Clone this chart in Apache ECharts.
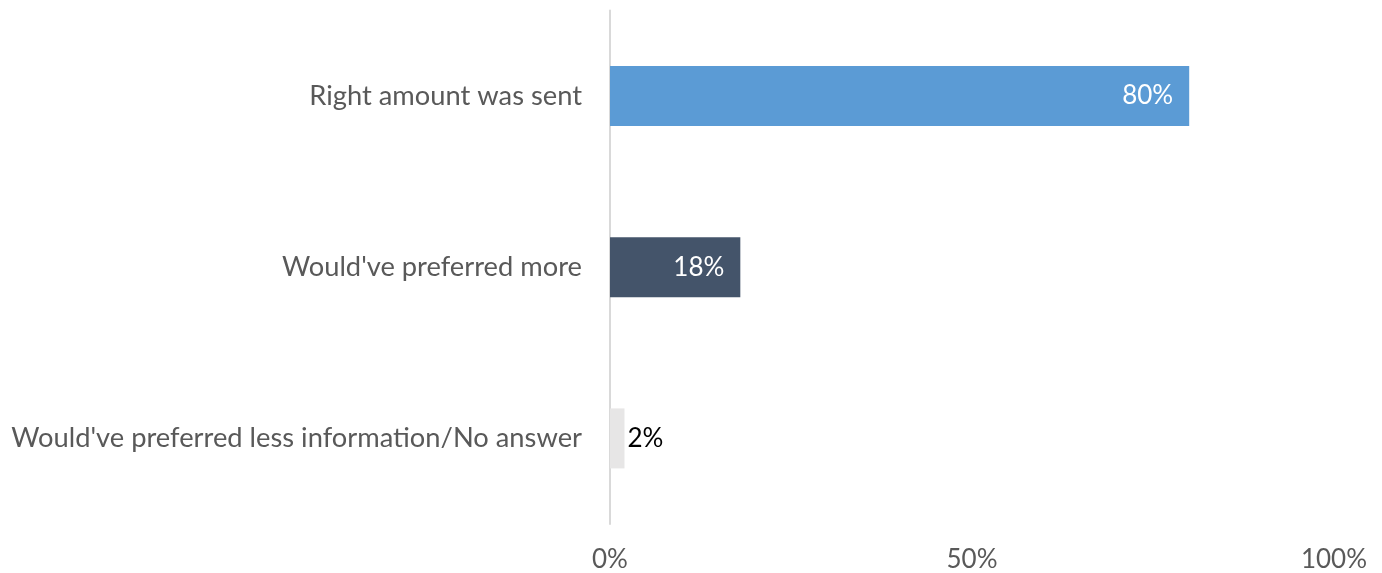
<!DOCTYPE html>
<html>
<head>
<meta charset="utf-8">
<script src="https://cdn.jsdelivr.net/npm/echarts@6/dist/echarts.min.js"></script>
<style>
  html, body { margin: 0; padding: 0; background: #fff; }
  #chart { width: 1382px; height: 573px; }
</style>
</head>
<body>
<div id="chart"></div>
<script>
// Categories listed bottom to top (category axis on y starts at bottom)
let categories = ["Would've preferred less information/No answer", "Would've preferred more", "Right amount was sent"];
let values = [2, 18, 80];
let barColors = ["#E7E6E6", "#44546A", "#5B9BD5"];
let labelColors = ["#000000", "#FFFFFF", "#FFFFFF"];
let xTicks = [0, 50, 100];

const fontFamily = "Lato, 'Open Sans', sans-serif";

let chart = echarts.init(document.getElementById("chart"));

chart.setOption({
  animation: false,
  grid: { left: 610, right: 48, top: 10.5, bottom: 49 },
  xAxis: {
    type: "value",
    min: xTicks[0],
    max: xTicks[xTicks.length - 1],
    interval: 50,
    axisLine: { show: false },
    axisTick: { show: false },
    splitLine: { show: false },
    axisLabel: {
      formatter: (v) => v + "%",
      color: "#595959",
      fontFamily: fontFamily,
      fontSize: 26,
      margin: 23
    }
  },
  yAxis: {
    type: "category",
    data: categories,
    axisLine: { show: true, lineStyle: { color: "#D9D9D9", width: 2 } },
    axisTick: { show: false },
    axisLabel: {
      color: "#595959",
      fontFamily: fontFamily,
      fontSize: 27.3,
      margin: 28
    }
  },
  series: [{
    type: "bar",
    barWidth: 60,
    data: values.map((v, i) => ({
      value: v,
      itemStyle: { color: barColors[i] },
      label: {
        position: i === 0 ? "right" : "insideRight",
        color: labelColors[i],
        distance: i === 0 ? 3 : 16
      }
    })),
    label: {
      show: true,
      formatter: (p) => p.value + "%",
      fontFamily: fontFamily,
      fontSize: 26
    }
  }]
});
</script>
</body>
</html>
